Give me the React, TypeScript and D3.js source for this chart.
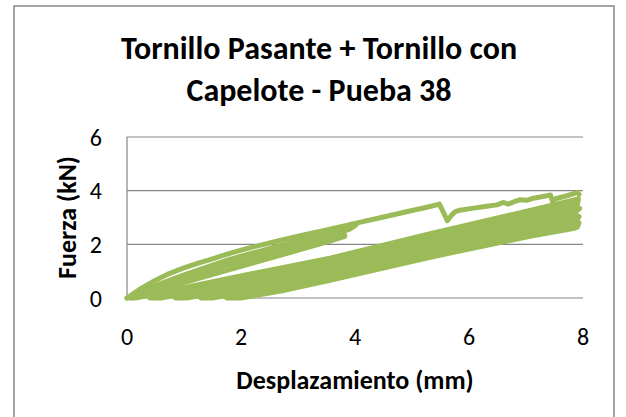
import React from "react";
import * as d3 from "d3";

// Chart text
const titleLines = ["Tornillo Pasante + Tornillo con", "Capelote - Pueba 38"];
const xAxisTitle = "Desplazamiento (mm)";
const yAxisTitle = "Fuerza (kN)";
const xTicks = [0, 2, 4, 6, 8];
const yTicks = [0, 2, 4, 6];

type Pt = [number, number];

// First loading up to 3.8 mm and its unloading
const cycle1Load: Pt[] = [
  [0, 0], [0.5, 0.4], [1.0, 0.72], [1.8, 1.24], [2.7, 1.76], [3.56, 2.22], [3.82, 2.34],
];
const cycle1Unload: Pt[] = [
  [3.82, 2.3], [3.56, 2.12], [2.7, 1.6], [1.8, 1.06], [1.0, 0.57], [0.5, 0.26], [0.1, 0],
];

// Reloading paths that join the envelope near 4 mm
const cycle2Reload: Pt[] = [
  [0.05, 0], [0.5, 0.46], [1.0, 0.86], [1.8, 1.44], [2.7, 1.96], [3.56, 2.44], [3.9, 2.62], [4.02, 2.74],
];
const cycle3Reload: Pt[] = [
  [0.08, 0], [0.5, 0.44], [1.0, 0.8], [1.8, 1.34], [2.7, 1.86], [3.56, 2.34], [3.9, 2.56], [4.0, 2.7],
];

// Envelope curve with the slip near 5.5 mm
const envelope: Pt[] = [
  [0, 0], [0.25, 0.36], [0.5, 0.66], [0.75, 0.92], [1.0, 1.12], [1.25, 1.3], [1.5, 1.46],
  [1.8, 1.66], [2.1, 1.84], [2.4, 2.0], [2.7, 2.15], [3.0, 2.3], [3.5, 2.54], [3.85, 2.7],
  [3.95, 2.76], [4.0, 2.78], [4.5, 3.02], [5.0, 3.26], [5.3, 3.4], [5.48, 3.5], [5.55, 3.2],
  [5.62, 2.88], [5.7, 3.1], [5.76, 3.22], [5.84, 3.27], [6.08, 3.35], [6.31, 3.42], [6.49, 3.47],
  [6.6, 3.56], [6.69, 3.5], [6.78, 3.58], [6.89, 3.66], [7.01, 3.64], [7.13, 3.72], [7.39, 3.82],
  [7.43, 3.84], [7.46, 3.62], [7.52, 3.7], [7.7, 3.8], [7.85, 3.9], [7.9, 3.94], [7.93, 3.86],
];

// Repeated cycles between the residual displacement and ~7.9 mm
const cycleA: Pt[] = [[0.15, 0], [1.0, 0.38], [1.8, 0.74], [2.7, 1.12], [3.56, 1.48], [5.32, 2.4], [7.07, 3.26], [7.86, 3.66], [7.92, 3.7]];
const cycleB: Pt[] = [[0.4, 0], [1.2, 0.36], [1.8, 0.62], [2.7, 1.0], [3.56, 1.36], [5.32, 2.26], [7.07, 3.12], [7.85, 3.5], [7.9, 3.46]];
const cycleC: Pt[] = [[0.6, 0], [1.3, 0.3], [1.8, 0.52], [2.7, 0.9], [3.56, 1.24], [5.32, 2.12], [7.07, 2.98], [7.88, 3.38], [7.94, 3.34]];
const cycleD: Pt[] = [[0.85, 0], [1.8, 0.4], [2.7, 0.78], [3.56, 1.12], [5.32, 1.98], [7.07, 2.84], [7.84, 3.22], [7.9, 3.26]];
const cycleE: Pt[] = [[1.05, 0], [1.8, 0.3], [2.7, 0.66], [3.56, 1.0], [5.32, 1.86], [7.07, 2.72], [7.87, 3.1], [7.93, 3.04]];
const cycleF: Pt[] = [[1.3, 0], [1.8, 0.2], [2.7, 0.55], [3.56, 0.9], [5.32, 1.74], [7.07, 2.6], [7.85, 2.96], [7.9, 2.92]];
const cycleG: Pt[] = [[1.5, 0], [2.7, 0.44], [3.56, 0.8], [5.32, 1.64], [7.07, 2.48], [7.88, 2.84], [7.93, 2.8]];
const cycleH: Pt[] = [[1.75, 0], [2.7, 0.32], [3.56, 0.7], [5.32, 1.56], [7.07, 2.36], [7.86, 2.7], [7.9, 2.66]];
const cycleI: Pt[] = [[2.0, 0], [2.7, 0.26], [3.56, 0.66], [5.32, 1.52], [7.07, 2.3], [7.85, 2.6], [7.9, 2.64]];

const W = 626;
const H = 417;
const plot = { left: 127, right: 583, top: 137, bottom: 298 };
const FONT = "Carlito, Calibri, Lato, 'Open Sans', sans-serif";
const GRID = "#868686";
const GREEN = "#9BBB59";

export default function App() {
  const x = d3.scaleLinear().domain([0, 8]).range([plot.left, plot.right]);
  const y = d3.scaleLinear().domain([0, 6]).range([plot.bottom, plot.top]);
  const line = d3
    .line<Pt>()
    .x((d) => x(d[0]))
    .y((d) => y(d[1]));

  // Cycles drawn as one continuous trace: up one path, down the next
  const lowerTrace: Pt[] = [];
  const cycles = [cycleA, cycleB, cycleC, cycleD, cycleE, cycleF, cycleG, cycleH, cycleI];
  cycles.forEach((c, i) => {
    const seg = i % 2 === 0 ? c : [...c].reverse();
    lowerTrace.push(...seg);
  });
  const upperPaths = [cycle1Load, cycle1Unload, cycle3Reload, cycle2Reload, envelope];

  return (
    <svg
      width={W}
      height={H}
      style={{ position: "absolute", left: 0, top: 0, background: "#fff" }}
    >
      <rect x={0} y={0} width={W} height={H} fill="#fff" />
      <rect x={14} y={6} width={600} height={420} fill="#fff" stroke={GRID} strokeWidth={1.5} />

      {/* gridlines */}
      {yTicks.map((t) => (
        <line key={t} x1={plot.left} x2={plot.right} y1={y(t)} y2={y(t)} stroke={GRID} strokeWidth={1.2} />
      ))}
      <line x1={plot.left} x2={plot.left} y1={plot.top} y2={plot.bottom} stroke={GRID} strokeWidth={1.2} />

      {/* data */}
      <g fill="none" stroke={GREEN} strokeWidth={5} strokeLinejoin="round" strokeLinecap="round">
        <path d={line(lowerTrace) ?? ""} />
        {upperPaths.map((c, i) => (
          <path key={i} d={line(c) ?? ""} />
        ))}
      </g>

      {/* tick labels */}
      <g fontFamily={FONT} fontSize={24} fill="#000">
        {yTicks.map((t) => (
          <text key={t} x={plot.left - 25} y={y(t)} textAnchor="end" dominantBaseline="central">
            {t}
          </text>
        ))}
        {xTicks.map((t) => (
          <text key={t} x={x(t)} y={336} textAnchor="middle" dominantBaseline="central">
            {t}
          </text>
        ))}
      </g>

      {/* axis titles */}
      <text
        x={(plot.left + plot.right) / 2}
        y={380}
        textAnchor="middle"
        dominantBaseline="central"
        fontFamily={FONT}
        fontWeight="bold"
        fontSize={26}
      >
        {xAxisTitle}
      </text>
      <text
        transform={`translate(67,${(plot.top + plot.bottom) / 2}) rotate(-90)`}
        textAnchor="middle"
        dominantBaseline="central"
        fontFamily={FONT}
        fontWeight="bold"
        fontSize={26}
      >
        {yAxisTitle}
      </text>

      {/* title */}
      <g fontFamily={FONT} fontWeight="bold" fontSize={32} textAnchor="middle">
        {titleLines.map((t, i) => (
          <text key={i} x={319} y={59 + i * 42}>
            {t}
          </text>
        ))}
      </g>
    </svg>
  );
}
